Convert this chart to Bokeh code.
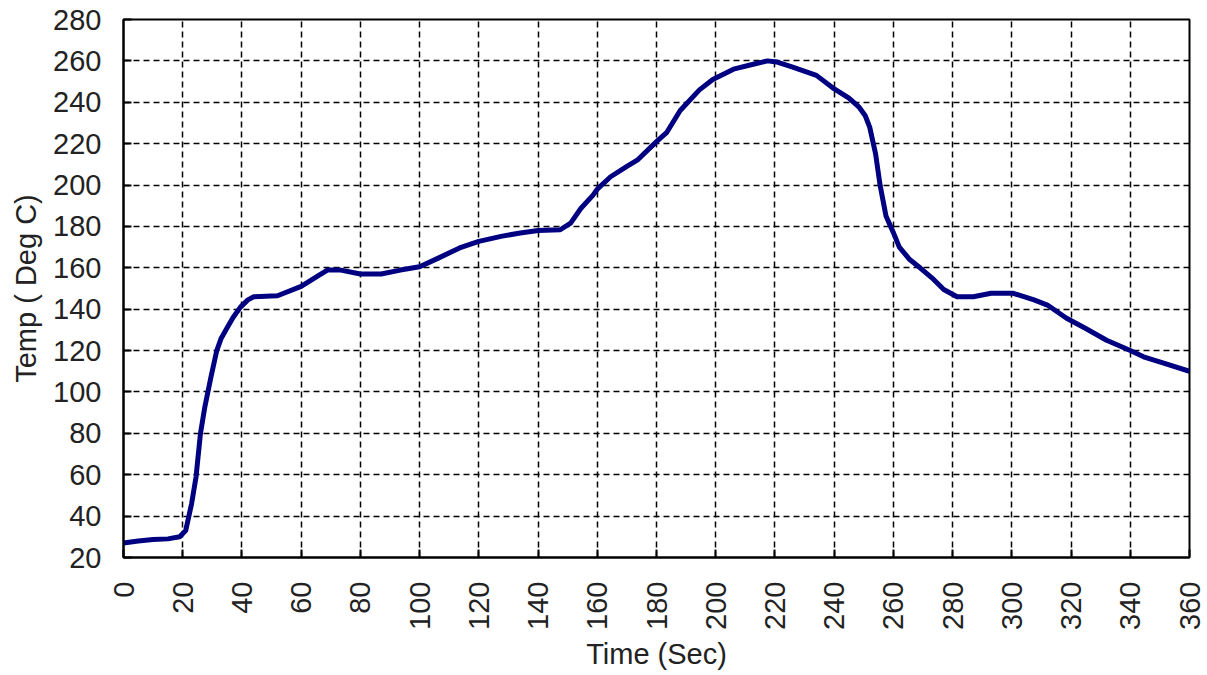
from bokeh.plotting import figure
from bokeh.models import FixedTicker, Range1d
from bokeh.embed import file_html
from bokeh.resources import INLINE
import math

# --- data ---
time_sec = [0, 5, 10, 15, 19, 21, 23, 24.5, 26, 27.5, 29.5, 31.5, 33, 35, 37, 39.5, 42, 44, 52,
            60, 65, 69, 73, 80, 87, 93.5, 100, 106.5, 113.5, 120, 127.5, 134, 140,
            147.5, 151, 154.5, 158.5, 160, 164.5, 170, 173.5, 180, 183.5, 188, 194.5,
            199, 206, 213, 217.5, 220.5, 226, 234, 239.5, 245, 248.5, 250.5, 252, 254, 255.5,
            257.5, 260, 262, 265.5, 269, 273.5, 277, 281.5, 287, 293, 300.5, 307.5,
            312, 318.5, 324.5, 332, 340, 344.5, 351, 360]
temp_c = [27, 28, 28.7, 29, 30, 33, 46, 59, 80, 93, 107, 120, 126, 131, 136, 141, 144.5, 146, 146.5,
          151, 155.5, 159, 159, 157, 157, 158.9, 160.5, 164.8, 169.6, 172.8, 175.2, 176.8, 178,
          178.4, 181.6, 188.8, 195, 198, 204, 209, 212, 221, 225.5, 236, 246,
          251, 256, 258.5, 260, 259.5, 257, 253, 247, 242, 237.5, 233.5, 228, 215, 200,
          185, 177, 170, 164, 160, 154.5, 149.5, 146, 146, 147.7, 147.7, 144.5,
          142, 135.6, 131, 125, 120, 117, 114, 110]

x_ticks = list(range(0, 361, 20))
y_ticks = list(range(20, 281, 20))

FONT = "Liberation Sans"
TXT = "#222222"

p = figure(width=1207, height=672, output_backend="svg", toolbar_location=None,
           x_range=Range1d(0, 360), y_range=Range1d(20, 280),
           min_border_left=123, min_border_right=18, min_border_top=19,
           min_border_bottom=114)

p.line(time_sec, temp_c, line_color="#000080", line_width=5, line_join="round")

p.outline_line_color = "black"
p.outline_line_width = 2
p.outline_line_alpha = 1.0

for ax, ticks in ((p.xaxis[0], x_ticks), (p.yaxis[0], y_ticks)):
    ax.ticker = FixedTicker(ticks=ticks)
    ax.axis_line_color = "black"
    ax.axis_line_width = 2
    ax.major_tick_in = 8
    ax.major_tick_out = 0
    ax.major_tick_line_color = "black"
    ax.major_tick_line_width = 2
    ax.minor_tick_line_color = None
    ax.major_label_text_font = FONT
    ax.major_label_text_font_size = "29px"
    ax.major_label_text_color = TXT
    ax.axis_label_text_font = FONT
    ax.axis_label_text_font_size = "29px"
    ax.axis_label_text_font_style = "normal"
    ax.axis_label_text_color = TXT

p.xaxis.major_label_orientation = math.pi / 2
p.xaxis.major_label_standoff = 24
p.xaxis.axis_label = "Time (Sec)"
p.xaxis.axis_label_standoff = 5
p.yaxis.major_label_standoff = 22
p.yaxis.axis_label = "Temp ( Deg C)"
p.yaxis.axis_label_standoff = 8

for g, ticks in ((p.xgrid[0], x_ticks), (p.ygrid[0], y_ticks)):
    g.ticker = FixedTicker(ticks=ticks)
    g.grid_line_color = "black"
    g.grid_line_width = 1.5
    g.grid_line_dash = "6 4"
    g.grid_line_alpha = 1.0

p.background_fill_color = "white"
p.border_fill_color = "white"

open("out.html", "w").write(file_html(p, INLINE))
